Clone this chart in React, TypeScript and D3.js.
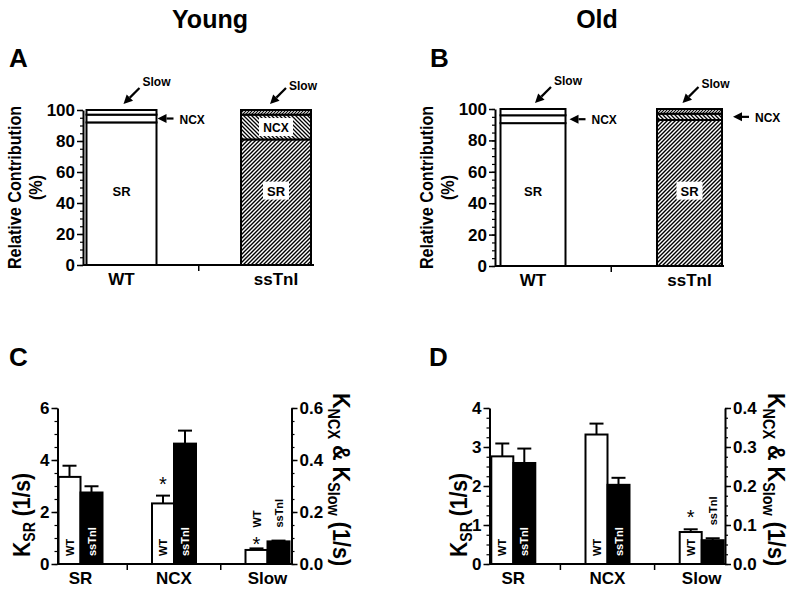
import React, { useEffect, useRef } from "react";
import * as d3 from "d3";

const W = 800;
const H = 593;
const FONT = "'Liberation Sans', Arial, Helvetica, sans-serif";

// relative contribution (%) in order SR, NCX, Slow
const groups = ["WT", "ssTnI"];
const components = ["SR", "NCX", "Slow"];
const youngWT = [92, 5, 3];
const youngTnI = [81, 16, 3];
const oldWT = [91, 5, 4];
const oldTnI = [93, 4, 3];
const pctTicks = [0, 20, 40, 60, 80, 100];

// rate constants: SR on left axis, NCX & Slow on right axis
const rateCats = ["SR", "NCX", "Slow"];
const youngRateWT = [3.35, 0.233, 0.054];
const youngErrWT = [0.43, 0.03, 0.006];
const youngRateTnI = [2.75, 0.463, 0.087];
const youngErrTnI = [0.24, 0.05, 0.003];
const oldRateWT = [2.76, 0.332, 0.082];
const oldErrWT = [0.33, 0.028, 0.007];
const oldRateTnI = [2.59, 0.203, 0.061];
const oldErrTnI = [0.37, 0.018, 0.005];
const youngLeftTicks = [0, 2, 4, 6];
const youngRightTicks = [0, 0.2, 0.4, 0.6];
const oldLeftTicks = [0, 1, 2, 3, 4];
const oldRightTicks = [0, 0.1, 0.2, 0.3, 0.4];
const youngSig = [false, true, true]; // * on WT bar
const oldSig = [false, false, true];

function styleAxis(a, fs = 16) {
  a.attr("font-family", FONT).attr("font-size", fs).attr("font-weight", "bold");
  a.select(".domain").attr("stroke", "#000").attr("stroke-width", 2);
  a.selectAll(".tick line").attr("stroke", "#000").attr("stroke-width", 1.5);
  a.selectAll(".tick text").attr("fill", "#000");
}

function arrow(g, x1, y1, x2, y2) {
  const ang = Math.atan2(y2 - y1, x2 - x1);
  const hl = 9, hw = 4.5;
  const bx = x2 - hl * Math.cos(ang), by = y2 - hl * Math.sin(ang);
  g.append("line").attr("x1", x1).attr("y1", y1).attr("x2", bx).attr("y2", by)
    .attr("stroke", "#000").attr("stroke-width", 2.2);
  const px = -Math.sin(ang) * hw, py = Math.cos(ang) * hw;
  g.append("path")
    .attr("d", `M${x2},${y2}L${bx + px},${by + py}L${bx - px},${by - py}Z`)
    .attr("fill", "#000");
}

function drawContribution(svg, cfg) {
  const g = svg.append("g");
  const y = d3.scaleLinear().domain([0, 100]).range([cfg.yBottom, cfg.yTop]);
  const x = d3.scalePoint().domain(groups).range(cfg.centers);

  // minor ticks
  const minor = g.append("g").attr("transform", `translate(${cfg.axisX},0)`)
    .call(d3.axisLeft(y).tickValues(d3.range(0, 101, 5)).tickSize(3).tickFormat(() => ""));
  minor.select(".domain").remove();
  minor.selectAll("line").attr("stroke-width", 1.2);
  const ya = g.append("g").attr("transform", `translate(${cfg.axisX},0)`)
    .call(d3.axisLeft(y).tickValues(pctTicks).tickSize(6).tickSizeOuter(0).tickPadding(2));
  styleAxis(ya, 17);

  // x axis
  g.append("line").attr("x1", cfg.axisX).attr("x2", cfg.xEnd)
    .attr("y1", cfg.yBottom).attr("y2", cfg.yBottom).attr("stroke", "#000").attr("stroke-width", 2);
  const mid = (x("WT") + x("ssTnI")) / 2;
  g.append("line").attr("x1", mid).attr("x2", mid).attr("y1", cfg.yBottom).attr("y2", cfg.yBottom + 6)
    .attr("stroke", "#000").attr("stroke-width", 1.5);
  groups.forEach((gr) => {
    g.append("text").attr("x", x(gr)).attr("y", cfg.yBottom + 20).attr("text-anchor", "middle")
      .attr("font-family", FONT).attr("font-size", 17).attr("font-weight", "bold").text(gr);
  });

  const sets = [cfg.wt, cfg.tnI];
  sets.forEach((vals, i) => {
    const gr = groups[i];
    const cx = x(gr);
    let cum = 0;
    vals.forEach((v, j) => {
      g.append("rect")
        .attr("x", cx - cfg.barW / 2).attr("width", cfg.barW)
        .attr("y", y(cum + v)).attr("height", y(cum) - y(cum + v))
        .attr("fill", i === 0 ? "#fff" : `url(#hatch-${components[j]})`)
        .attr("stroke", "#000").attr("stroke-width", 2);
      cum += v;
    });
    // SR label
    const sy = y(48);
    if (i === 1) {
      g.append("rect").attr("x", cx - 13).attr("y", sy - 9).attr("width", 26).attr("height", 18).attr("fill", "#fff");
    }
    g.append("text").attr("x", cx).attr("y", sy + 5).attr("text-anchor", "middle")
      .attr("font-family", FONT).attr("font-size", 13).attr("font-weight", "bold").text("SR");

    // Slow arrow
    const top = y(100);
    const sdx = cfg.slowDx[i];
    arrow(g, cx + sdx + 16, top - 22, cx + sdx, top - 6);
    g.append("text").attr("x", cx + sdx + 19).attr("y", top - cfg.slowLift[i])
      .attr("font-family", FONT).attr("font-size", 12).attr("font-weight", "bold").text("Slow");

    // NCX
    const ny = y(vals[0] + vals[1] / 2);
    if (cfg.ncxDx[i] === null) {
      g.append("rect").attr("x", cx - 17).attr("y", ny - 9).attr("width", 34).attr("height", 18).attr("fill", "#fff");
      g.append("text").attr("x", cx).attr("y", ny + 5).attr("text-anchor", "middle")
        .attr("font-family", FONT).attr("font-size", 12).attr("font-weight", "bold").text("NCX");
    } else {
      const ax = cx + cfg.barW / 2 + cfg.ncxDx[i];
      arrow(g, ax + 16, ny, ax, ny);
      g.append("text").attr("x", ax + 22).attr("y", ny + 5)
        .attr("font-family", FONT).attr("font-size", 12).attr("font-weight", "bold").text("NCX");
    }
  });

  // y title
  const tg = g.append("g").attr("transform", `translate(${cfg.axisX - 62},${(cfg.yTop + cfg.yBottom) / 2}) rotate(-90) scale(0.85,1)`);
  tg.append("text").attr("x", 0).attr("y", 0).attr("text-anchor", "middle")
    .attr("font-family", FONT).attr("font-size", 19).attr("font-weight", "bold").text("Relative Contribution");
  tg.append("text").attr("x", 0).attr("y", 21).attr("text-anchor", "middle")
    .attr("font-family", FONT).attr("font-size", 19).attr("font-weight", "bold").text("(%)");

  svg.append("text").attr("x", cfg.letter[0]).attr("y", cfg.letter[1])
    .attr("font-family", FONT).attr("font-size", 26).attr("font-weight", "bold").text(cfg.letter[2]);
}

function drawRates(svg, cfg) {
  const g = svg.append("g");
  const yL = d3.scaleLinear().domain([0, cfg.leftTicks[cfg.leftTicks.length - 1]]).range([cfg.yBottom, cfg.yTop]);
  const yR = d3.scaleLinear().domain([0, cfg.rightTicks[cfg.rightTicks.length - 1]]).range([cfg.yBottom, cfg.yTop]);
  const x = d3.scalePoint().domain(rateCats).range(cfg.centers);

  const lMax = yL.domain()[1], rMax = yR.domain()[1];
  const ml = g.append("g").attr("transform", `translate(${cfg.xL},0)`)
    .call(d3.axisLeft(yL).tickValues(d3.range(0, lMax + 1e-9, cfg.leftMinor)).tickSize(3).tickFormat(() => ""));
  ml.select(".domain").remove();
  ml.selectAll("line").attr("stroke-width", 1.2);
  const mr = g.append("g").attr("transform", `translate(${cfg.xR},0)`)
    .call(d3.axisRight(yR).tickValues(d3.range(0, rMax + 1e-9, cfg.rightMinor)).tickSize(3).tickFormat(() => ""));
  mr.select(".domain").remove();
  mr.selectAll("line").attr("stroke-width", 1.2);

  const la = g.append("g").attr("transform", `translate(${cfg.xL},0)`)
    .call(d3.axisLeft(yL).tickValues(cfg.leftTicks).tickSize(6).tickSizeOuter(0).tickPadding(2).tickFormat(d3.format("d")));
  styleAxis(la, 17);
  const ra = g.append("g").attr("transform", `translate(${cfg.xR},0)`)
    .call(d3.axisRight(yR).tickValues(cfg.rightTicks).tickSize(6).tickSizeOuter(0).tickPadding(2).tickFormat(d3.format(".1f")));
  styleAxis(ra, 17);

  g.append("line").attr("x1", cfg.xL).attr("x2", cfg.xR)
    .attr("y1", cfg.yBottom).attr("y2", cfg.yBottom).attr("stroke", "#000").attr("stroke-width", 2);
  for (let i = 0; i < rateCats.length - 1; i++) {
    const m = (x(rateCats[i]) + x(rateCats[i + 1])) / 2;
    g.append("line").attr("x1", m).attr("x2", m).attr("y1", cfg.yBottom).attr("y2", cfg.yBottom + 6)
      .attr("stroke", "#000").attr("stroke-width", 1.5);
  }
  rateCats.forEach((c) => {
    g.append("text").attr("x", x(c)).attr("y", cfg.yBottom + 20).attr("text-anchor", "middle")
      .attr("font-family", FONT).attr("font-size", 17).attr("font-weight", "bold").text(c);
  });

  rateCats.forEach((c, i) => {
    const sc = i === 0 ? yL : yR;
    const cx = x(c);
    const bars = [
      { name: "WT", v: cfg.wt[i], e: cfg.wtErr[i], x0: cx - cfg.barW, fill: "#fff", txt: "#000" },
      { name: "ssTnI", v: cfg.tnI[i], e: cfg.tnIErr[i], x0: cx, fill: "#000", txt: "#fff" },
    ];
    bars.forEach((b, k) => {
      const top = sc(b.v);
      const etop = sc(b.v + b.e);
      const bc = b.x0 + cfg.barW / 2;
      g.append("line").attr("x1", bc).attr("x2", bc).attr("y1", top).attr("y2", etop)
        .attr("stroke", "#000").attr("stroke-width", 2);
      g.append("line").attr("x1", bc - 7).attr("x2", bc + 7).attr("y1", etop).attr("y2", etop)
        .attr("stroke", "#000").attr("stroke-width", 2);
      g.append("rect").attr("x", b.x0).attr("width", cfg.barW)
        .attr("y", top).attr("height", cfg.yBottom - top)
        .attr("fill", b.fill).attr("stroke", "#000").attr("stroke-width", 2);

      const len = k === 0 ? 18 : 28;
      const inside = cfg.yBottom - top > len + 10;
      const color = inside ? b.txt : "#000";
      const starBase = inside ? etop - 5 : etop + 3;
      if (k === 0 && cfg.sig[i]) {
        g.append("text").attr("x", bc).attr("y", starBase).attr("text-anchor", "middle")
          .attr("font-family", FONT).attr("font-size", 20).attr("font-weight", "normal").text("*");
      }
      let labelStart;
      if (inside) labelStart = cfg.yBottom - 8;
      else labelStart = k === 0 ? starBase - 24 : etop - 13;
      g.append("text").attr("transform", `translate(${bc + 4},${labelStart}) rotate(-90)`)
        .attr("font-family", FONT).attr("font-size", 11).attr("font-weight", "bold")
        .attr("fill", color).text(b.name);
    });
  });

  // left title
  const lt = g.append("text")
    .attr("transform", `translate(${cfg.leftTitle[0]},${cfg.leftTitle[1]}) rotate(-90) scale(0.88,1)`)
    .attr("font-family", FONT).attr("font-size", 24).attr("font-weight", "bold");
  lt.append("tspan").text("K");
  lt.append("tspan").attr("font-size", 16).attr("dy", 5).text("SR");
  lt.append("tspan").attr("dy", -5).text(" (1/s)");

  const rt = g.append("text")
    .attr("transform", `translate(${cfg.rightTitle[0]},${cfg.rightTitle[1]}) rotate(90) scale(0.9,1)`)
    .attr("font-family", FONT).attr("font-size", 24).attr("font-weight", "bold");
  rt.append("tspan").text("K");
  rt.append("tspan").attr("font-size", 16).attr("dy", 5).text("NCX");
  rt.append("tspan").attr("dy", -5).text(" & K");
  rt.append("tspan").attr("font-size", 16).attr("dy", 5).text("Slow");
  rt.append("tspan").attr("dy", -5).text(" (1/s)");

  svg.append("text").attr("x", cfg.letter[0]).attr("y", cfg.letter[1])
    .attr("font-family", FONT).attr("font-size", 26).attr("font-weight", "bold").text(cfg.letter[2]);
}

function addPatterns(svg) {
  const defs = svg.append("defs");
  const mk = (id, size, d, sw) => {
    const p = defs.append("pattern").attr("id", id).attr("patternUnits", "userSpaceOnUse")
      .attr("width", size).attr("height", size);
    p.append("rect").attr("width", size).attr("height", size).attr("fill", "#fff");
    p.append("path").attr("d", d).attr("stroke", "#000").attr("stroke-width", sw);
  };
  mk("hatch-SR", 4, "M-1,1L1,-1M0,4L4,0M3,5L5,3", 1.4);
  mk("hatch-NCX", 4, "M-1,3L1,5M0,0L4,4M3,-1L5,1", 1.3);
  mk("hatch-Slow", 3, "M-1,1L1,-1M0,3L3,0M2,4L4,2", 1.1);
}

export default function App() {
  const ref = useRef(null);
  useEffect(() => {
    const svg = d3.select(ref.current);
    svg.selectAll("*").remove();
    addPatterns(svg);

    svg.append("text").attr("x", 210).attr("y", 28).attr("text-anchor", "middle")
      .attr("font-family", FONT).attr("font-size", 25).attr("font-weight", "bold").text("Young");
    svg.append("text").attr("x", 597).attr("y", 28).attr("text-anchor", "middle")
      .attr("font-family", FONT).attr("font-size", 25).attr("font-weight", "bold").text("Old");

    drawContribution(svg, {
      axisX: 83, xEnd: 314, yTop: 110, yBottom: 265, centers: [121.5, 276], barW: 70,
      wt: youngWT, tnI: youngTnI, slowDx: [2, -6], slowLift: [24, 20], ncxDx: [1, null],
      letter: [9, 67, "A"],
    });
    drawContribution(svg, {
      axisX: 495, xEnd: 724, yTop: 109, yBottom: 266, centers: [533, 689.5], barW: 65,
      wt: oldWT, tnI: oldTnI, slowDx: [2, -7], slowLift: [24, 21], ncxDx: [4, 11],
      letter: [430, 67, "B"],
    });
    drawRates(svg, {
      xL: 57.5, xR: 291.5, yTop: 408, yBottom: 564, centers: [80.5, 267.5], barW: 22,
      wt: youngRateWT, wtErr: youngErrWT, tnI: youngRateTnI, tnIErr: youngErrTnI,
      leftTicks: youngLeftTicks, rightTicks: youngRightTicks, sig: youngSig,
      leftMinor: 0.5, rightMinor: 0.05,
      leftTitle: [30, 557], rightTitle: [333, 393], letter: [9, 366, "C"],
    });
    drawRates(svg, {
      xL: 489.5, xR: 725, yTop: 408, yBottom: 564, centers: [513.3, 701.7], barW: 22,
      wt: oldRateWT, wtErr: oldErrWT, tnI: oldRateTnI, tnIErr: oldErrTnI,
      leftTicks: oldLeftTicks, rightTicks: oldRightTicks, sig: oldSig,
      leftMinor: 0.25, rightMinor: 0.025,
      leftTitle: [467, 557], rightTitle: [768, 393], letter: [429, 366, "D"],
    });
  }, []);

  return (
    <svg ref={ref} width={W} height={H} style={{ position: "absolute", left: 0, top: 0, background: "#fff" }} />
  );
}
